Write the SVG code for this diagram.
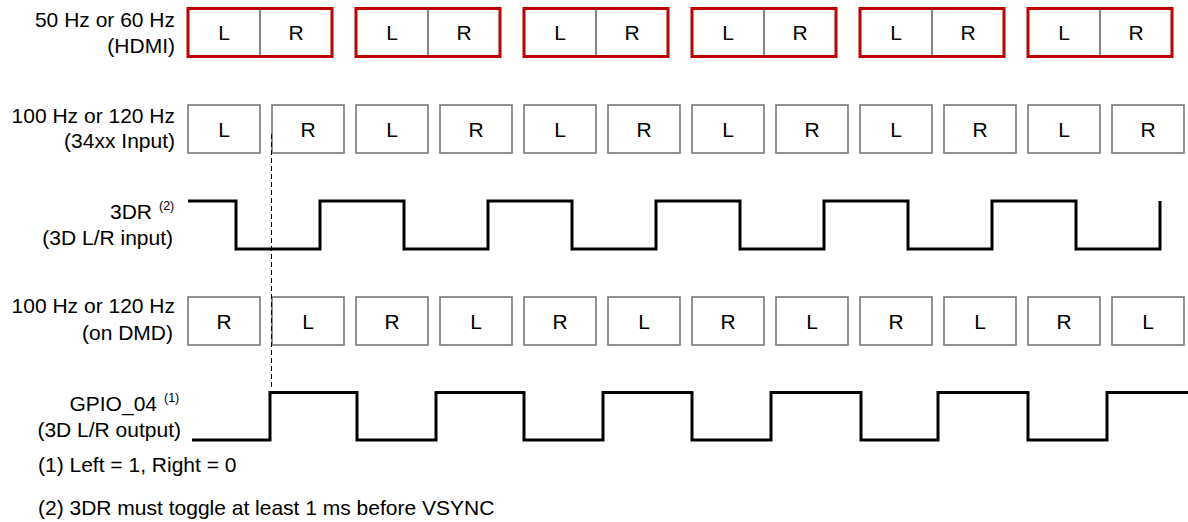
<svg xmlns="http://www.w3.org/2000/svg" width="1188" height="522" viewBox="0 0 1188 522">
<defs>
<style>
text{font-family:"Liberation Sans",Arial,sans-serif;fill:#000;}
.lbl{font-size:21px;text-anchor:end;}
.sup{font-size:12.5px;}
.cell{font-size:21px;text-anchor:middle;}
.red{fill:#fff;stroke:#c00000;stroke-width:3;}
.div{stroke:#333;stroke-width:1.2;}
.gray{fill:#fff;stroke:#777;stroke-width:1.6;}
.wave{fill:none;stroke:#000;stroke-width:3;}
.dash{fill:none;stroke:#000;stroke-width:1;stroke-dasharray:5,3;}
.note{font-size:21px;}
</style>
</defs>
<rect width="1188" height="522" fill="#fff"/>

<g id="labels">
<text class="lbl" x="175" y="27">50 Hz or 60 Hz</text>
<text class="lbl" x="175" y="53">(HDMI)</text>
<text class="lbl" x="175" y="123">100 Hz or 120 Hz</text>
<text class="lbl" x="175" y="148">(34xx Input)</text>
<text class="lbl" x="152" y="219">3DR</text>
<text class="sup" x="159" y="210">(2)</text>
<text class="lbl" x="173" y="245">(3D L/R input)</text>
<text class="lbl" x="175" y="313">100 Hz or 120 Hz</text>
<text class="lbl" x="173" y="340">(on DMD)</text>
<text class="lbl" x="157" y="411">GPIO_04</text>
<text class="sup" x="164" y="402">(1)</text>
<text class="lbl" x="181" y="437">(3D L/R output)</text>
</g>

<g id="hdmi-row">
<g id="hdmi-1"><rect class="red" x="188" y="8.5" width="144" height="48"/><line class="div" x1="260" y1="8.5" x2="260" y2="56.5"/><text class="cell" x="224" y="40">L</text><text class="cell" x="296" y="40">R</text></g>
<g id="hdmi-2"><rect class="red" x="356" y="8.5" width="144" height="48"/><line class="div" x1="428" y1="8.5" x2="428" y2="56.5"/><text class="cell" x="392" y="40">L</text><text class="cell" x="464" y="40">R</text></g>
<g id="hdmi-3"><rect class="red" x="524" y="8.5" width="144" height="48"/><line class="div" x1="596" y1="8.5" x2="596" y2="56.5"/><text class="cell" x="560" y="40">L</text><text class="cell" x="632" y="40">R</text></g>
<g id="hdmi-4"><rect class="red" x="692" y="8.5" width="144" height="48"/><line class="div" x1="764" y1="8.5" x2="764" y2="56.5"/><text class="cell" x="728" y="40">L</text><text class="cell" x="800" y="40">R</text></g>
<g id="hdmi-5"><rect class="red" x="860" y="8.5" width="144" height="48"/><line class="div" x1="932" y1="8.5" x2="932" y2="56.5"/><text class="cell" x="896" y="40">L</text><text class="cell" x="968" y="40">R</text></g>
<g id="hdmi-6"><rect class="red" x="1028" y="8.5" width="144" height="48"/><line class="div" x1="1100" y1="8.5" x2="1100" y2="56.5"/><text class="cell" x="1064" y="40">L</text><text class="cell" x="1136" y="40">R</text></g>
</g>

<g id="input-row">
<g id="in-1"><rect class="gray" x="188" y="105" width="72" height="48"/><text class="cell" x="224" y="136.5">L</text></g>
<g id="in-2"><rect class="gray" x="272" y="105" width="72" height="48"/><text class="cell" x="308" y="136.5">R</text></g>
<g id="in-3"><rect class="gray" x="356" y="105" width="72" height="48"/><text class="cell" x="392" y="136.5">L</text></g>
<g id="in-4"><rect class="gray" x="440" y="105" width="72" height="48"/><text class="cell" x="476" y="136.5">R</text></g>
<g id="in-5"><rect class="gray" x="524" y="105" width="72" height="48"/><text class="cell" x="560" y="136.5">L</text></g>
<g id="in-6"><rect class="gray" x="608" y="105" width="72" height="48"/><text class="cell" x="644" y="136.5">R</text></g>
<g id="in-7"><rect class="gray" x="692" y="105" width="72" height="48"/><text class="cell" x="728" y="136.5">L</text></g>
<g id="in-8"><rect class="gray" x="776" y="105" width="72" height="48"/><text class="cell" x="812" y="136.5">R</text></g>
<g id="in-9"><rect class="gray" x="860" y="105" width="72" height="48"/><text class="cell" x="896" y="136.5">L</text></g>
<g id="in-10"><rect class="gray" x="944" y="105" width="72" height="48"/><text class="cell" x="980" y="136.5">R</text></g>
<g id="in-11"><rect class="gray" x="1028" y="105" width="72" height="48"/><text class="cell" x="1064" y="136.5">L</text></g>
<g id="in-12"><rect class="gray" x="1112" y="105" width="72" height="48"/><text class="cell" x="1148" y="136.5">R</text></g>
</g>

<g id="dmd-row">
<g id="dmd-1"><rect class="gray" x="188" y="297" width="72" height="48"/><text class="cell" x="224" y="328.5">R</text></g>
<g id="dmd-2"><rect class="gray" x="272" y="297" width="72" height="48"/><text class="cell" x="308" y="328.5">L</text></g>
<g id="dmd-3"><rect class="gray" x="356" y="297" width="72" height="48"/><text class="cell" x="392" y="328.5">R</text></g>
<g id="dmd-4"><rect class="gray" x="440" y="297" width="72" height="48"/><text class="cell" x="476" y="328.5">L</text></g>
<g id="dmd-5"><rect class="gray" x="524" y="297" width="72" height="48"/><text class="cell" x="560" y="328.5">R</text></g>
<g id="dmd-6"><rect class="gray" x="608" y="297" width="72" height="48"/><text class="cell" x="644" y="328.5">L</text></g>
<g id="dmd-7"><rect class="gray" x="692" y="297" width="72" height="48"/><text class="cell" x="728" y="328.5">R</text></g>
<g id="dmd-8"><rect class="gray" x="776" y="297" width="72" height="48"/><text class="cell" x="812" y="328.5">L</text></g>
<g id="dmd-9"><rect class="gray" x="860" y="297" width="72" height="48"/><text class="cell" x="896" y="328.5">R</text></g>
<g id="dmd-10"><rect class="gray" x="944" y="297" width="72" height="48"/><text class="cell" x="980" y="328.5">L</text></g>
<g id="dmd-11"><rect class="gray" x="1028" y="297" width="72" height="48"/><text class="cell" x="1064" y="328.5">R</text></g>
<g id="dmd-12"><rect class="gray" x="1112" y="297" width="72" height="48"/><text class="cell" x="1148" y="328.5">L</text></g>
</g>

<g id="connectors">
<path id="wave-3dr" class="wave" d="M188,201 H236 V249 H320 V201 H404 V249 H488 V201 H572 V249 H656 V201 H740 V249 H824 V201 H908 V249 H992 V201 H1076 V249 H1160 V201"/>
<path id="wave-gpio" class="wave" d="M192,440 H270 V392.5 H357 V440 H436 V392.5 H524 V440 H603 V392.5 H692 V440 H771 V392.5 H861 V440 H938 V392.5 H1028 V440 H1107 V392.5 H1188"/>
<line id="sync-line" class="dash" x1="271.5" y1="134" x2="271.5" y2="390"/>
</g>

<g id="notes">
<text class="note" x="38" y="472">(1) Left = 1, Right = 0</text>
<text class="note" x="38" y="515">(2) 3DR must toggle at least 1 ms before VSYNC</text>
</g>
</svg>
